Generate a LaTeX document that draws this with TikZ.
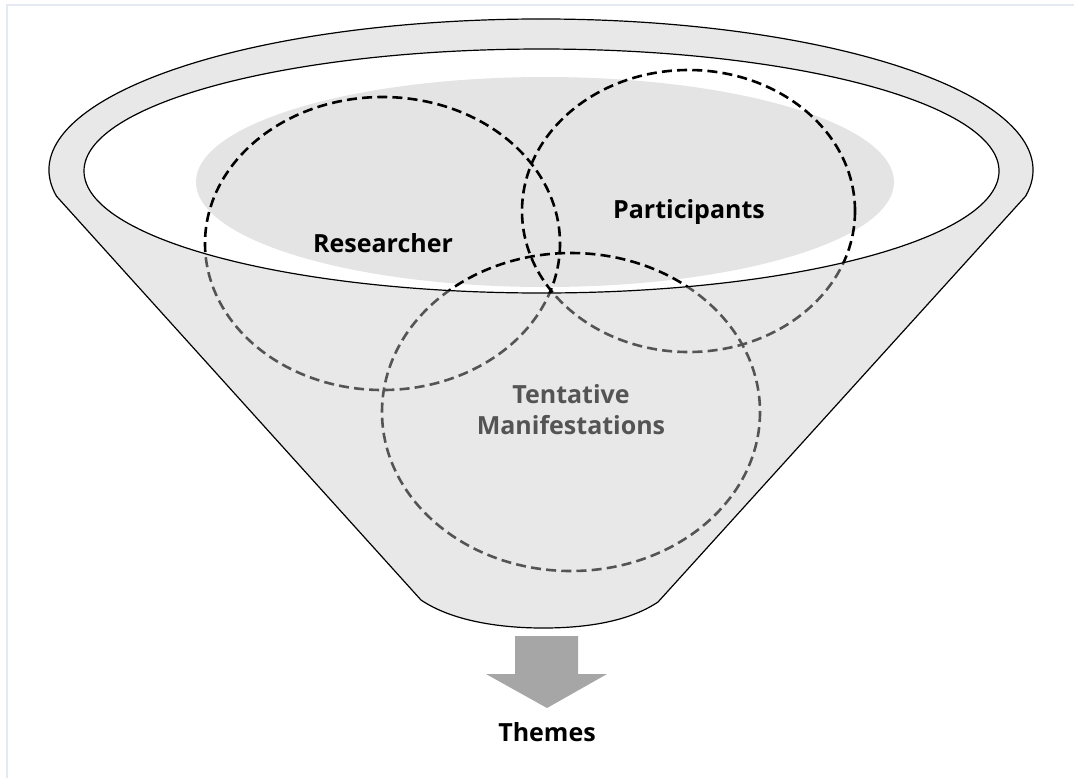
\documentclass[tikz,border=0pt]{standalone}
\usepackage{fontspec}
\setmainfont{Open Sans}
\usepackage{tikz}
\definecolor{bodygrey}{gray}{0.79}
\definecolor{lensgrey}{HTML}{E4E4E4}
\definecolor{arrowgrey}{HTML}{A6A6A6}
\definecolor{framegrey}{HTML}{E4E9F2}
\tikzstyle{ring}=[draw=black, line width=1.3pt, dash pattern=on 5pt off 2.6pt]
\tikzstyle{word}=[font=\fontsize{12.5}{15.5}\selectfont\bfseries, align=center, inner sep=0pt]
\tikzstyle{rim}=[draw=black, line width=0.6pt]

\begin{document}
\begin{tikzpicture}[x=0.5pt,y=-0.5pt]
		   \useasboundingbox (0,0) rectangle (1074,778);
		   \draw[framegrey, line width=1pt] (7,778) -- (7,5) -- (1074,5);
		   \begin{scope}
			   \fill[lensgrey] (545,182) ellipse [x radius=349, y radius=105];
			   \draw[ring] (382.5,243.5) ellipse [x radius=177.5, y radius=146.5];
			   \draw[ring] (688.5,211) ellipse [x radius=166.5, y radius=141];
			   \draw[ring] (571,412) ellipse [x radius=189, y radius=159];

			   \node (researcher) at (383,243) [word] {Researcher};
			   \node (participants) at (689,212) [word] {Participants};
			   \node (tentative) at (571,410) [word] {Tentative\\Manifestations};
		   \end{scope}
		   \begin{scope}
			   % funnel body, the opening left out
			   \fill[bodygrey, fill opacity=0.42, even odd rule]
				   (56.5,196.2) arc[start angle=170, end angle=370, x radius=492, y radius=151]
				   -- (658,602) .. controls (628,622) and (585,628) .. (543,628)
				   .. controls (500,628) and (452,621) .. (421,600) -- cycle
				   (541.5,171) ellipse [x radius=457.5, y radius=122];
			   \draw[rim]
				   (56.5,196.2) arc[start angle=170, end angle=370, x radius=492, y radius=151]
				   -- (658,602) .. controls (628,622) and (585,628) .. (543,628)
				   .. controls (500,628) and (452,621) .. (421,600) -- cycle;
			   \draw[rim] (541.5,171) ellipse [x radius=457.5, y radius=122];
		   \end{scope}
		   \begin{scope}
			   \fill[arrowgrey] (515,636) -- (578,636) -- (578,674) -- (607,674)
				   -- (547,708) -- (486,674) -- (515,674) -- cycle;
			   \node (themes) at (547,732) [word] {Themes};
		   \end{scope}
	   \end{tikzpicture}
\end{document}
